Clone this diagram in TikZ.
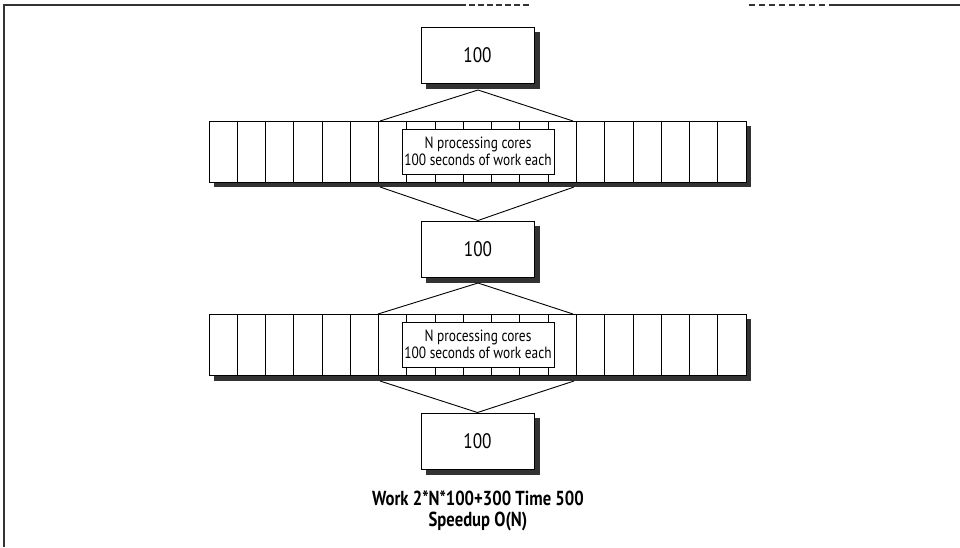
\documentclass[tikz,border=0pt]{standalone}
\usepackage{fontspec}
\setmainfont{PT Sans}[FakeStretch=0.82]
\usetikzlibrary{backgrounds}
\tikzset{
  frameline/.style={line width=1.3pt, black!80},
  shadowfill/.style={fill=black!80},
  box100/.style={draw=black, line width=1pt, fill=white, minimum width=113pt, minimum height=56pt, inner sep=0pt, font=\fontsize{21}{23}\selectfont},
  cellbox/.style={draw=black, line width=0.9pt, fill=white, minimum width=28.263pt, minimum height=61pt, inner sep=0pt},
  labelbox/.style={draw=black, line width=0.9pt, fill=white, minimum width=152pt, minimum height=45pt, inner sep=0pt, align=center, font=\fontsize{16.3}{17.5}\selectfont},
  link/.style={draw=black, line width=0.9pt},
  caption/.style={align=center, font=\bfseries\fontsize{20.3}{21}\selectfont}
}
\begin{document}
\begin{tikzpicture}[x=1pt, y=-1pt]
\useasboundingbox (0,0) rectangle (960,547);
% frame (top and left edges)
\draw[frameline] (4,547) -- (4,5) -- (460,5);
\draw[frameline, dash pattern=on 6pt off 3pt] (460,5) -- (530,5);
\draw[frameline, dash pattern=on 6pt off 4pt] (749,5) -- (830,5);
\draw[frameline] (830,5) -- (960,5);

% boxes
\node[box100] (b1) at (477.5,55) {100};
\node[box100] (b2) at (478,249) {100};
\node[box100] (b3) at (477.5,441) {100};

% row 1
\foreach \i in {0,...,18} {
  \node[cellbox] (ra\i) at ({209+\i*28.263+14.13},151.5) {};
}
\node[labelbox] (la) at (478,151.5) {N processing cores\\100 seconds of work each};

% row 2
\foreach \i in {0,...,18} {
  \node[cellbox] (rb\i) at ({209+\i*28.263+14.13},345) {};
}
\node[labelbox] (lb) at (478,344.5) {N processing cores\\100 seconds of work each};

% shadows (right and bottom bands)
\begin{scope}[on background layer]
  \foreach \n in {b1,b2,b3} {
    \fill[shadowfill] ([shift={(5,5)}]\n.north west) rectangle ([shift={(5,5)}]\n.south east);
  }
  \fill[shadowfill] ([shift={(5,5)}]ra0.north west) rectangle ([shift={(5,5)}]ra18.south east);
  \fill[shadowfill] ([shift={(5,5)}]rb0.north west) rectangle ([shift={(5,5)}]rb18.south east);
\end{scope}

% connectors
\coordinate (a1) at (478,90);
\coordinate (t1l) at (380,121);
\coordinate (t1r) at (573,121);
\coordinate (u1l) at (380,187);
\coordinate (u1r) at (574,187);
\draw[link] (t1l) -- (a1) -- (t1r);
\draw[link] (u1l) -- (b2.north) -- (u1r);

\coordinate (a2) at (478,283);
\coordinate (t2l) at (378,314);
\coordinate (t2r) at (573,314);
\coordinate (u2l) at (380,381);
\coordinate (u2r) at (574,381);
\draw[link] (t2l) -- (a2) -- (t2r);
\draw[link] (u2l) -- (b3.north) -- (u2r);

% caption
\node[caption] (cap) at (478,511) {Work 2*N*100+300 Time 500\\Speedup O(N)};
\end{tikzpicture}
\end{document}
